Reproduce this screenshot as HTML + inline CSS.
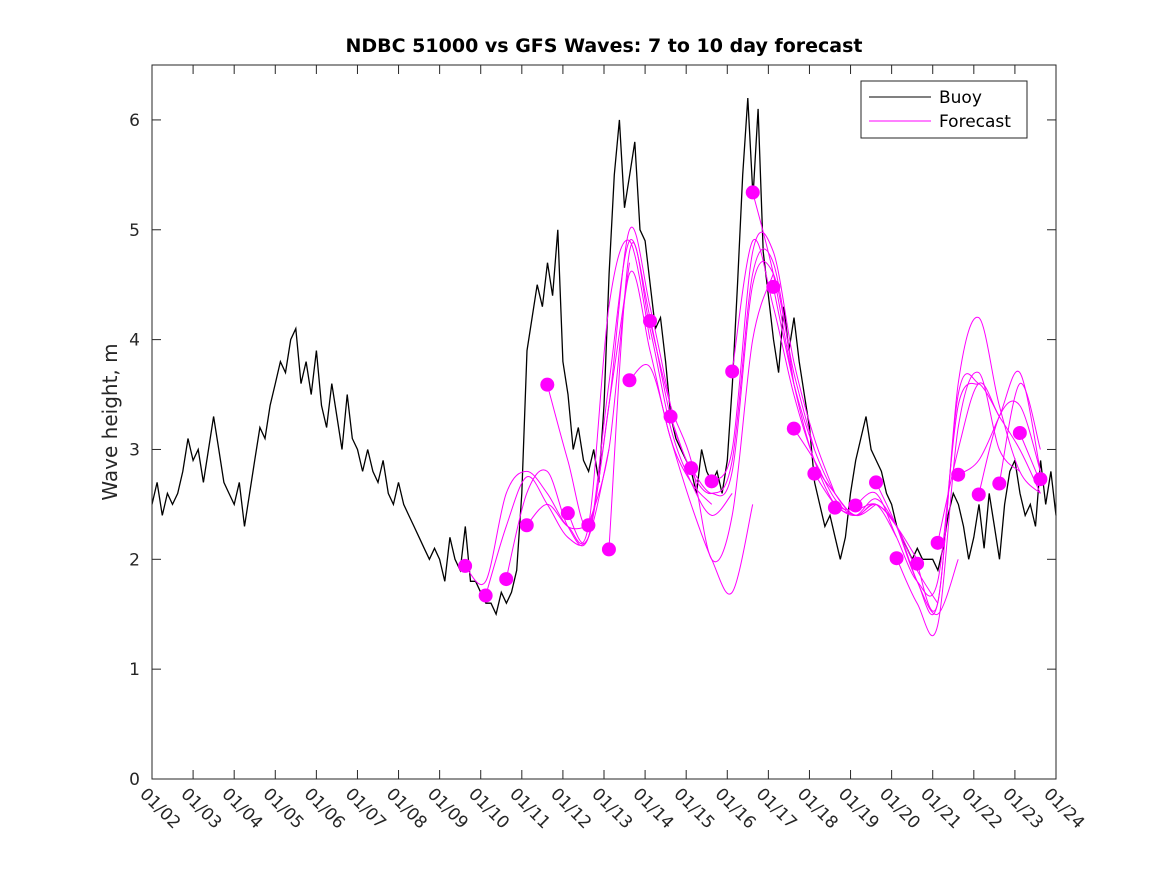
<!DOCTYPE html>
<html><head><meta charset="utf-8"><style>
body{margin:0;background:#fff}
svg{display:block;font-family:"DejaVu Sans","Liberation Sans",sans-serif}
</style></head><body>
<svg id="chart" width="1167" height="875" xmlns="http://www.w3.org/2000/svg">
<rect width="1167" height="875" fill="#fff"/>
<text x="604" y="52" text-anchor="middle" font-size="19" font-weight="bold" fill="#000">NDBC 51000 vs GFS Waves: 7 to 10 day forecast</text>
<text transform="translate(117,422) rotate(-90)" text-anchor="middle" font-size="20" fill="#262626">Wave height, m</text>
<g id="marks"></g>
<rect x="152" y="65" width="904" height="714" fill="none" stroke="#262626" stroke-width="1"/>
<g id="axes"></g>
<g>
<rect x="861" y="81" width="166" height="57" fill="#fff" stroke="#262626"/>
<line x1="869" y1="97" x2="931" y2="97" stroke="#000"/>
<text x="939" y="103" font-size="17" fill="#000">Buoy</text>
<line x1="869" y1="121" x2="931" y2="121" stroke="#f0f"/>
<text x="939" y="127" font-size="17" fill="#000">Forecast</text>
</g>
</svg>
<script>
const xTickLabels=["01/02","01/03","01/04","01/05","01/06","01/07","01/08","01/09","01/10","01/11","01/12","01/13","01/14","01/15","01/16","01/17","01/18","01/19","01/20","01/21","01/22","01/23","01/24"];
const yTicks=[0,1,2,3,4,5,6];
const buoyStepDays=0.125;
const buoy=[
2.5,2.7,2.4,2.6,2.5,2.6,2.8,3.1,
2.9,3.0,2.7,3.0,3.3,3.0,2.7,2.6,
2.5,2.7,2.3,2.6,2.9,3.2,3.1,3.4,
3.6,3.8,3.7,4.0,4.1,3.6,3.8,3.5,
3.9,3.4,3.2,3.6,3.3,3.0,3.5,3.1,
3.0,2.8,3.0,2.8,2.7,2.9,2.6,2.5,
2.7,2.5,2.4,2.3,2.2,2.1,2.0,2.1,
2.0,1.8,2.2,2.0,1.9,2.3,1.8,1.8,
1.7,1.6,1.6,1.5,1.7,1.6,1.7,1.9,
2.6,3.9,4.2,4.5,4.3,4.7,4.4,5.0,
3.8,3.5,3.0,3.2,2.9,2.8,3.0,2.7,
3.4,4.6,5.5,6.0,5.2,5.5,5.8,5.0,
4.9,4.5,4.1,4.2,3.8,3.3,3.1,3.0,
2.9,2.8,2.6,3.0,2.8,2.7,2.8,2.6,
2.9,3.6,4.5,5.5,6.2,5.3,6.1,4.8,
4.4,4.0,3.7,4.3,3.9,4.2,3.8,3.5,
3.2,2.7,2.5,2.3,2.4,2.2,2.0,2.2,
2.6,2.9,3.1,3.3,3.0,2.9,2.8,2.6,
2.5,2.3,2.2,2.1,2.0,2.1,2.0,2.0,
2.0,1.9,2.1,2.4,2.6,2.5,2.3,2.0,
2.2,2.5,2.1,2.6,2.3,2.0,2.5,2.8,
2.9,2.6,2.4,2.5,2.3,2.9,2.5,2.8,
2.4];
const forecastStartDay=7.62;
const forecastSpacing=0.5;
const forecastStepDays=0.5;
const forecasts=[
[1.94,1.8,2.6,2.8,2.6,2.3,2.3],
[1.67,2.3,2.75,2.5,2.2,2.2,3.0],
[1.82,2.6,2.8,2.3,2.2,3.4,4.7],
[2.31,2.5,2.3,2.3,4.3,4.9,4.0],
[3.59,2.9,2.3,3.4,5.0,4.3,3.4],
[2.42,2.2,3.6,4.9,4.2,3.3,2.8],
[2.31,3.0,4.6,3.9,3.1,2.7,2.5],
[2.09,4.8,4.1,3.2,2.7,2.4,2.6],
[3.63,3.75,3.1,2.5,2.0,1.7,2.5],
[4.17,3.4,2.9,2.0,2.4,4.0,4.6],
[3.30,2.8,2.6,2.9,4.6,4.7,3.6],
[2.83,2.6,2.8,4.5,4.6,3.7,3.0],
[2.71,3.0,4.8,4.8,3.8,3.1,2.6],
[3.71,4.9,4.3,3.5,2.9,2.5,2.4],
[5.34,4.6,3.6,2.9,2.6,2.4,2.5],
[4.48,3.6,3.0,2.6,2.4,2.5,2.2],
[3.19,2.9,2.55,2.4,2.5,2.3,2.0],
[2.78,2.5,2.4,2.55,2.3,1.9,1.6],
[2.47,2.45,2.5,2.3,1.8,1.5,2.0],
[2.49,2.6,2.2,1.8,1.8,3.4,3.6],
[2.70,2.3,1.8,1.6,3.5,3.6,3.3],
[2.01,1.6,1.4,3.2,3.7,3.0,2.8],
[1.96,1.6,3.6,4.2,3.4,2.8,2.6],
[2.15,3.0,3.6,3.3,3.0,2.6,2.3],
[2.77,2.9,3.3,3.7,2.8,2.4],
[2.59,3.3,3.4,2.8,2.5],
[2.69,3.6,3.0,2.6],
[3.15,2.7,2.4],
[2.73,2.6]];

const NS="http://www.w3.org/2000/svg";
const X0=152,X1=1056,Y0=779,Y1=65,DMAX=22,YMAX=6.5;
const xs=d=>X0+(X1-X0)*d/DMAX;
const ys=v=>Y0-(Y0-Y1)*v/YMAX;
const marks=document.getElementById('marks');
const axes=document.getElementById('axes');

xTickLabels.forEach((lab,i)=>{
  const x=xs(i);
  const t1=document.createElementNS(NS,'line');
  
  
  t1.setAttribute('x1',x);t1.setAttribute('x2',x);t1.setAttribute('y1',Y0);t1.setAttribute('y2',Y0-9);
  t1.setAttribute('stroke','#262626');axes.appendChild(t1);
  const t2=document.createElementNS(NS,'line');
  
  
  t2.setAttribute('x1',x);t2.setAttribute('x2',x);t2.setAttribute('y1',Y1);t2.setAttribute('y2',Y1+9);
  t2.setAttribute('stroke','#262626');axes.appendChild(t2);
  const tx=document.createElementNS(NS,'text');
  
  
  tx.setAttribute('transform','translate('+(x-13)+','+(Y0+16)+') rotate(45)');
  tx.setAttribute('font-size','17');tx.setAttribute('fill','#262626');
  tx.textContent=lab;axes.appendChild(tx);
});
yTicks.forEach(v=>{
  const y=ys(v);
  const t1=document.createElementNS(NS,'line');
  
  
  t1.setAttribute('x1',X0);t1.setAttribute('x2',X0+9);t1.setAttribute('y1',y);t1.setAttribute('y2',y);
  t1.setAttribute('stroke','#262626');axes.appendChild(t1);
  const t2=document.createElementNS(NS,'line');
  
  
  t2.setAttribute('x1',X1);t2.setAttribute('x2',X1-9);t2.setAttribute('y1',y);t2.setAttribute('y2',y);
  t2.setAttribute('stroke','#262626');axes.appendChild(t2);
  const tx=document.createElementNS(NS,'text');
  
  
  tx.setAttribute('x',X0-12);tx.setAttribute('y',y+6);tx.setAttribute('text-anchor','end');
  tx.setAttribute('font-size','17');tx.setAttribute('fill','#262626');
  tx.textContent=String(v);axes.appendChild(tx);
});

const bp=buoy.map((v,i)=>xs(i*buoyStepDays).toFixed(1)+','+ys(v).toFixed(1)).join(' ');
const bl=document.createElementNS(NS,'polyline');


bl.setAttribute('points',bp);bl.setAttribute('fill','none');bl.setAttribute('stroke','#000');bl.setAttribute('stroke-width','1.3');
marks.appendChild(bl);

function smoothPath(p){
  if(p.length<2) return '';
  let d='M'+p[0][0].toFixed(1)+','+p[0][1].toFixed(1);
  for(let i=0;i<p.length-1;i++){
    const p0=p[Math.max(0,i-1)],p1=p[i],p2=p[i+1],p3=p[Math.min(p.length-1,i+2)];
    const c1=[p1[0]+(p2[0]-p0[0])/6,p1[1]+(p2[1]-p0[1])/6];
    const c2=[p2[0]-(p3[0]-p1[0])/6,p2[1]-(p3[1]-p1[1])/6];
    d+=' C'+c1[0].toFixed(1)+','+c1[1].toFixed(1)+' '+c2[0].toFixed(1)+','+c2[1].toFixed(1)+' '+p2[0].toFixed(1)+','+p2[1].toFixed(1);
  }
  return d;
}
forecasts.forEach((arr,i)=>{
  const d0=forecastStartDay+i*forecastSpacing;
  const pts=[];
  arr.forEach((v,k)=>{const d=d0+k*forecastStepDays; if(d<=DMAX+0.01) pts.push([xs(d),ys(v)]);});
  const pl=document.createElementNS(NS,'path');
  
  
  pl.setAttribute('d',smoothPath(pts));pl.setAttribute('fill','none');pl.setAttribute('stroke','#f0f');pl.setAttribute('stroke-width','1');
  marks.appendChild(pl);
});
forecasts.forEach((arr,i)=>{
  const d0=forecastStartDay+i*forecastSpacing;
  const c=document.createElementNS(NS,'circle');
  
  
  c.setAttribute('cx',xs(d0));c.setAttribute('cy',ys(arr[0]));c.setAttribute('r','7');c.setAttribute('fill','#f0f');
  marks.appendChild(c);
});
</script>
</body></html>
